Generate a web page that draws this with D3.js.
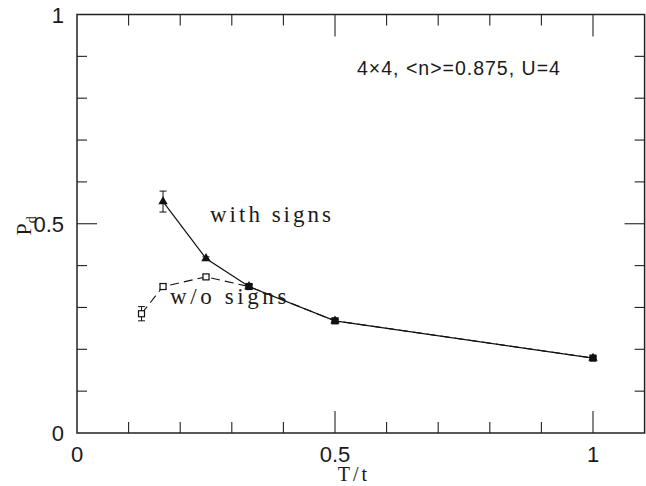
<!DOCTYPE html>
<html>
<head>
<meta charset="utf-8">
<script src="https://cdn.jsdelivr.net/npm/d3@7"></script>
<style>
  body { margin: 0; background: #fff; }
  svg text { fill: #1a1a1a; }
</style>
</head>
<body>
<svg id="chart" width="646" height="486"></svg>
<script>
// data
var tempWith   = [0.1667, 0.25, 0.3333, 0.5, 1.0];
var pdWith     = [0.553, 0.417, 0.350, 0.268, 0.179];
var errWith    = [0.025, 0.004, 0.005, 0.004, 0.003];

var tempWo     = [0.125, 0.1667, 0.25, 0.3333, 0.5, 1.0];
var pdWo       = [0.285, 0.350, 0.373, 0.350, 0.268, 0.179];
var errWo      = [0.017, 0.006, 0.005, 0.004, 0.004, 0.003];

var xMinorTicks = [0.1, 0.2, 0.3, 0.4, 0.6, 0.7, 0.8, 0.9];
var xMajorTicks = [0, 0.5, 1];
var xTickLabels = ["0", "0.5", "1"];
var yMinorTicks = [0.1, 0.2, 0.3, 0.4, 0.6, 0.7, 0.8, 0.9];
var yMajorTicks = [0, 0.5, 1];
var yTickLabels = ["0", "0.5", "1"];

var plotLeft = 77, plotTop = 14.5, plotBottom = 433;

var svg = d3.select("#chart");

var x = d3.scaleLinear().domain([0, 1.1]).range([plotLeft, plotLeft + 1.1 * 516]);
var y = d3.scaleLinear().domain([0, 1]).range([plotBottom, plotTop]);
var plotRight = x(1.1);

var frame = svg.append("g")
  .attr("stroke", "#222")
  .attr("fill", "none");

frame.append("rect")
  .attr("x", plotLeft).attr("y", plotTop)
  .attr("width", plotRight - plotLeft).attr("height", plotBottom - plotTop)
  .attr("stroke-width", 1.5);

// inward ticks on all four sides
function xTicks(vals, len) {
  vals.forEach(function(v) {
    frame.append("line").attr("x1", x(v)).attr("x2", x(v))
      .attr("y1", plotBottom).attr("y2", plotBottom - len).attr("stroke-width", 1.1);
    frame.append("line").attr("x1", x(v)).attr("x2", x(v))
      .attr("y1", plotTop).attr("y2", plotTop + len).attr("stroke-width", 1.1);
  });
}
function yTicks(vals, len) {
  vals.forEach(function(v) {
    frame.append("line").attr("y1", y(v)).attr("y2", y(v))
      .attr("x1", plotLeft).attr("x2", plotLeft + len).attr("stroke-width", 1.1);
    frame.append("line").attr("y1", y(v)).attr("y2", y(v))
      .attr("x1", plotRight).attr("x2", plotRight - len).attr("stroke-width", 1.1);
  });
}
xTicks(xMinorTicks, 11);
xTicks(xMajorTicks.filter(function(v) { return v > 0; }), 22);
yTicks(yMinorTicks, 10);
yTicks([0.5], 20);

// tick labels
var tickFont = "'Liberation Sans', 'DejaVu Sans', sans-serif";
svg.selectAll(".xlab").data(xMajorTicks).enter().append("text")
  .attr("class", "xlab")
  .attr("x", function(d) { return x(d); })
  .attr("y", 462)
  .attr("text-anchor", "middle")
  .style("font-family", tickFont).style("font-size", "22px")
  .text(function(d, i) { return xTickLabels[i]; });

svg.selectAll(".ylab").data(yMajorTicks).enter().append("text")
  .attr("class", "ylab")
  .attr("x", 64)
  .attr("y", function(d) { return y(d) + 8; })
  .attr("text-anchor", "end")
  .style("font-family", tickFont).style("font-size", "22px")
  .text(function(d, i) { return yTickLabels[i]; });

// axis titles
var serif = "'Liberation Serif', 'DejaVu Serif', serif";
svg.append("text")
  .attr("x", 354).attr("y", 481)
  .attr("text-anchor", "middle")
  .style("font-family", serif).style("font-size", "20px")
  .style("letter-spacing", "3px")
  .text("T/t");

var ylab = svg.append("text")
  .attr("transform", "translate(31," + (y(0.5) + 2) + ") rotate(-90)")
  .attr("text-anchor", "middle")
  .style("font-family", serif).style("font-size", "22px");
ylab.append("tspan").text("P");
ylab.append("tspan").attr("dy", 5).style("font-size", "14px").text("d");

// lines
var line = d3.line()
  .x(function(d) { return x(d[0]); })
  .y(function(d) { return y(d[1]); });

var woPts = tempWo.map(function(t, i) { return [t, pdWo[i], errWo[i]]; });
var withPts = tempWith.map(function(t, i) { return [t, pdWith[i], errWith[i]]; });

svg.append("path")
  .datum(woPts)
  .attr("d", line)
  .attr("fill", "none").attr("stroke", "#111")
  .attr("stroke-width", 1.1)
  .attr("stroke-dasharray", "9,5");

svg.append("path")
  .datum(withPts)
  .attr("d", line)
  .attr("fill", "none").attr("stroke", "#111")
  .attr("stroke-width", 1.2);

// error bars
function errBars(pts) {
  var g = svg.append("g").attr("stroke", "#111").attr("stroke-width", 1);
  pts.forEach(function(p) {
    var hi = y(p[1] + p[2]), lo = y(p[1] - p[2]), cx = x(p[0]);
    g.append("line").attr("x1", cx).attr("x2", cx).attr("y1", hi).attr("y2", lo);
    g.append("line").attr("x1", cx - 3.5).attr("x2", cx + 3.5).attr("y1", hi).attr("y2", hi);
    g.append("line").attr("x1", cx - 3.5).attr("x2", cx + 3.5).attr("y1", lo).attr("y2", lo);
  });
}
errBars(woPts);
errBars(withPts);

// markers: open squares for w/o signs, filled triangles with signs
svg.selectAll(".sq").data(woPts).enter().append("rect")
  .attr("class", "sq")
  .attr("x", function(d) { return x(d[0]) - 3; })
  .attr("y", function(d) { return y(d[1]) - 3; })
  .attr("width", 6).attr("height", 6)
  .attr("fill", function(d) { return d[0] > 0.3 ? "#111" : "#fff"; })
  .attr("stroke", "#111").attr("stroke-width", 1.2);

var tri = d3.symbol().type(d3.symbolTriangle).size(38);
svg.selectAll(".tri").data(withPts).enter().append("path")
  .attr("class", "tri")
  .attr("d", tri)
  .attr("transform", function(d) { return "translate(" + x(d[0]) + "," + y(d[1]) + ")"; })
  .attr("fill", "#111");

// annotations
svg.append("text")
  .attr("x", 357).attr("y", 75)
  .style("font-family", tickFont).style("font-size", "19.5px")
  .style("letter-spacing", "1px")
  .text("4\u00d74, <n>=0.875, U=4");

svg.append("text")
  .attr("x", 210).attr("y", 222)
  .style("font-family", serif).style("font-size", "23px")
  .style("letter-spacing", "3px")
  .text("with signs");

svg.append("text")
  .attr("x", 170).attr("y", 304)
  .style("font-family", serif).style("font-size", "23px")
  .style("letter-spacing", "3.6px")
  .text("w/o signs");
</script>
</body>
</html>
